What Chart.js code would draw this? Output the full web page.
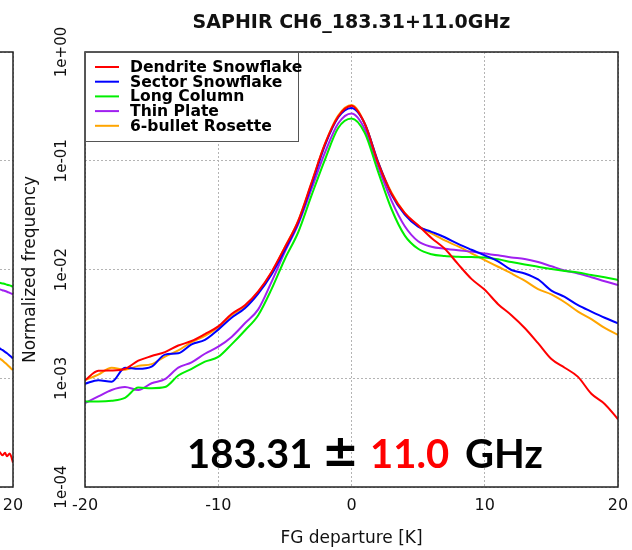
<!DOCTYPE html>
<html lang="en">
<head>
  <meta charset="UTF-8">
  <title>SAPHIR CH6 183.31+11.0GHz</title>
  <script src="https://cdn.jsdelivr.net/npm/chart.js"></script>
  <style>
    html, body { margin: 0; padding: 0; background: #fff; overflow: hidden; }
    #wrap { position: relative; width: 632px; height: 550px; overflow: hidden; }
    /* neighbouring panel: same geometry as the main one, shifted so only its right edge shows */
    #sideChart { position: absolute; left: -605px; top: 0; width: 632px; height: 550px; }
    #mainChart { position: absolute; left: 0; top: 0; width: 632px; height: 550px; }
  </style>
</head>
<body>
<div id="wrap">
  <canvas id="sideChart" width="632" height="550"></canvas>
  <canvas id="mainChart" width="632" height="550"></canvas>
</div>

<script>
// ---- data (FG departure in K, normalized frequency) ----
const xValues = [-20, -19, -18, -17, -16, -15, -14, -13, -12, -11, -10, -9, -8, -7, -6, -5, -4, -3, -2, -1,
  0, 1, 2, 3, 4, 5, 6, 7, 8, 9, 10, 11, 12, 13, 14, 15, 16, 17, 18, 19, 20];

const dendrite = [9.6e-4, 1.17e-3, 1.18e-3, 1.22e-3, 1.45e-3, 1.6e-3, 1.74e-3, 2.0e-3, 2.2e-3, 2.55e-3,
  3.0e-3, 3.9e-3, 4.7e-3, 6.3e-3, 9.5e-3, 0.016, 0.028, 0.063, 0.142, 0.255,
  0.32, 0.218, 0.095, 0.05, 0.033, 0.0255, 0.0195, 0.0155, 0.0112, 0.0082,
  0.0065, 0.0048, 0.0038, 0.0029, 0.0021, 0.0015, 0.00125, 0.00103, 0.00072, 0.00058, 0.00042];
const sector = [8.9e-4, 9.6e-4, 9.3e-4, 1.25e-3, 1.22e-3, 1.28e-3, 1.65e-3, 1.7e-3, 2.05e-3, 2.25e-3,
  2.8e-3, 3.6e-3, 4.4e-3, 6.0e-3, 9.0e-3, 0.0152, 0.027, 0.06, 0.138, 0.25,
  0.305, 0.218, 0.097, 0.049, 0.032, 0.0248, 0.0222, 0.0198, 0.0172, 0.0152,
  0.0135, 0.0119, 0.0099, 0.0092, 0.0081, 0.0064, 0.0056, 0.0047, 0.0041, 0.0036, 0.0032];
const longColumn = [6.1e-4, 6.1e-4, 6.2e-4, 6.6e-4, 8.2e-4, 8.1e-4, 8.3e-4, 1.06e-3, 1.22e-3, 1.42e-3,
  1.57e-3, 2.05e-3, 2.75e-3, 3.8e-3, 6.6e-3, 0.0125, 0.022, 0.048, 0.102, 0.2,
  0.245, 0.18, 0.079, 0.036, 0.0205, 0.0155, 0.0138, 0.0133, 0.0131, 0.013,
  0.0129, 0.0124, 0.0117, 0.0111, 0.0106, 0.0101, 0.0097, 0.0094, 0.0089, 0.0085, 0.008];
const thinPlate = [5.9e-4, 6.8e-4, 7.8e-4, 8.3e-4, 7.8e-4, 9.0e-4, 9.8e-4, 1.25e-3, 1.4e-3, 1.68e-3,
  1.95e-3, 2.4e-3, 3.2e-3, 4.3e-3, 7.7e-3, 0.0145, 0.026, 0.055, 0.118, 0.22,
  0.272, 0.195, 0.088, 0.043, 0.025, 0.0182, 0.0162, 0.0155, 0.015, 0.0146,
  0.014, 0.0135, 0.0129, 0.0125, 0.0117, 0.0107, 0.0098, 0.0092, 0.0085, 0.0078, 0.0072];
const rosette = [9.6e-4, 1.08e-3, 1.25e-3, 1.2e-3, 1.3e-3, 1.35e-3, 1.58e-3, 1.8e-3, 2.15e-3, 2.45e-3,
  2.95e-3, 3.8e-3, 4.6e-3, 6.2e-3, 9.4e-3, 0.016, 0.028, 0.062, 0.142, 0.26,
  0.325, 0.22, 0.097, 0.051, 0.033, 0.0252, 0.0215, 0.0185, 0.0163, 0.0141,
  0.0122, 0.0106, 0.0092, 0.0079, 0.0066, 0.0059, 0.005, 0.0041, 0.0035, 0.0029, 0.0025];

const seriesNames = ['Dendrite Snowflake', 'Sector Snowflake', 'Long Column', 'Thin Plate', '6-bullet Rosette'];
const seriesColors = ['#ff0000', '#0000ff', '#00ee00', '#a020f0', '#ffa500'];

const yTickValues = [1e-4, 1e-3, 1e-2, 1e-1, 1];
const yTickLabels = ['1e-04', '1e-03', '1e-02', '1e-01', '1e+00'];
const xTickValues = [-20, -10, 0, 10, 20];

// right edge of the neighbouring panel (cut off at the left of the image)
const sideX = [18.5, 19, 19.2, 19.4, 19.55, 19.75, 19.88, 20];
const sideDendrite = [2.2e-4, 2.1e-4, 1.96e-4, 2.06e-4, 1.92e-4, 2.03e-4, 1.89e-4, 1.67e-4];
const sideSector = [2.1e-3, 1.88e-3, 1.82e-3, 1.75e-3, 1.7e-3, 1.62e-3, 1.57e-3, 1.52e-3];
const sideLongColumn = [7.9e-3, 7.55e-3, 7.45e-3, 7.35e-3, 7.25e-3, 7.15e-3, 7.05e-3, 6.93e-3];
const sideThinPlate = [6.9e-3, 6.56e-3, 6.45e-3, 6.35e-3, 6.25e-3, 6.1e-3, 6.0e-3, 5.94e-3];
const sideRosette = [1.7e-3, 1.52e-3, 1.46e-3, 1.39e-3, 1.34e-3, 1.27e-3, 1.22e-3, 1.19e-3];

const titleText = 'SAPHIR CH6_183.31+11.0GHz';

Chart.defaults.font.family = '"DejaVu Sans", sans-serif';
Chart.defaults.color = '#111';

function toPoints(xs, ys) {
  return xs.map((x, i) => ({ x: x, y: ys[i] }));
}

function makeDatasets(xs, lists) {
  return lists.map((ys, i) => ({
    label: seriesNames[i],
    data: toPoints(xs, ys),
    borderColor: seriesColors[i],
    backgroundColor: seriesColors[i],
    borderWidth: 2,
    pointRadius: 0,
    cubicInterpolationMode: 'monotone',
    fill: false
  }));
}

// fix axis sizes and stop tick labels from pushing the plot area in
function fixSize(w, h) {
  return s => {
    if (w !== null) s.width = w;
    if (h !== null) s.height = h;
    s.paddingLeft = 0;
    s.paddingRight = 0;
    s.paddingTop = 0;
    s.paddingBottom = 0;
  };
}

const gridStyle = { color: '#b4b4b4', lineWidth: 1, drawTicks: false };
const dashedBorder = { display: false, dash: [2, 2] };

// box around the plot area
const boxPlugin = {
  id: 'box',
  afterDatasetsDraw(chart) {
    const { ctx, chartArea: a } = chart;
    ctx.save();
    ctx.strokeStyle = '#222';
    ctx.lineWidth = 1.5;
    ctx.strokeRect(a.left, a.top, a.right - a.left, a.bottom - a.top);
    ctx.restore();
  }
};

// title, legend and the big frequency label
const decorPlugin = {
  id: 'decor',
  afterDatasetsDraw(chart) {
    const { ctx, chartArea: a } = chart;
    ctx.save();

    // title
    ctx.fillStyle = '#111';
    ctx.font = 'bold 19px "DejaVu Sans"';
    ctx.textAlign = 'center';
    ctx.textBaseline = 'alphabetic';
    ctx.fillText(titleText, (a.left + a.right) / 2, 28);

    // legend box
    ctx.fillStyle = '#fff';
    ctx.fillRect(a.left, a.top, 213, 89);
    ctx.strokeStyle = '#555';
    ctx.lineWidth = 1;
    ctx.strokeRect(a.left + 0.5, a.top + 0.5, 213, 89);
    ctx.font = 'bold 15.6px "DejaVu Sans"';
    ctx.textAlign = 'left';
    ctx.textBaseline = 'middle';
    chart.data.datasets.forEach((ds, i) => {
      const y = a.top + 15 + i * 14.7;
      ctx.strokeStyle = ds.borderColor;
      ctx.lineWidth = 2;
      ctx.beginPath();
      ctx.moveTo(a.left + 10, y);
      ctx.lineTo(a.left + 34, y);
      ctx.stroke();
      ctx.fillStyle = '#000';
      ctx.fillText(ds.label, a.left + 45, y + 1);
    });

    // 183.31 ± 11.0 GHz
    const base = a.bottom - 19;
    ctx.textBaseline = 'alphabetic';
    ctx.font = 'bold 40px Lato';
    ctx.fillStyle = '#000';
    ctx.fillText('183.31', a.left + 102, base);
    ctx.font = 'bold 44px "DejaVu Sans"';
    ctx.fillText('\u00b1', a.left + 237, base - 2);
    ctx.font = 'bold 40px Lato';
    ctx.fillStyle = '#ff0000';
    ctx.fillText('11.0', a.left + 285, base);
    ctx.fillStyle = '#000';
    ctx.fillText('GHz', a.left + 380, base);
    ctx.restore();
  }
};

// both panels share one layout so their plot areas line up exactly
function panelOptions() {
  return {
    responsive: false,
    animation: false,
    layout: { padding: { left: 0, right: 14, top: 52, bottom: 0 } },
    plugins: { legend: { display: false }, title: { display: false }, tooltip: { enabled: false } },
    scales: {
      x: {
        type: 'linear',
        min: -20,
        max: 20,
        afterBuildTicks: s => { s.ticks = xTickValues.map(v => ({ value: v })); },
        afterFit: fixSize(null, 63),
        grid: gridStyle,
        border: dashedBorder,
        ticks: { font: { size: 16 }, padding: 9, color: '#111', maxRotation: 0 },
        title: { display: true, text: 'FG departure [K]', font: { size: 17 }, color: '#111', padding: { top: 0, bottom: 1 } }
      },
      y: {
        type: 'logarithmic',
        min: 1e-4,
        max: 1,
        afterBuildTicks: s => { s.ticks = yTickValues.map(v => ({ value: v })); },
        afterFit: fixSize(85, null),
        grid: gridStyle,
        border: dashedBorder,
        ticks: {
          font: { size: 15 },
          color: '#111',
          autoSkip: false,
          minRotation: 90,
          maxRotation: 90,
          crossAlign: 'center',
          padding: -2,
          callback: v => yTickLabels[yTickValues.indexOf(v)]
        },
        title: { display: true, text: 'Normalized frequency', font: { size: 17 }, color: '#111', padding: { top: 20, bottom: 0 } }
      }
    }
  };
}

new Chart(document.getElementById('mainChart'), {
  type: 'line',
  data: { datasets: makeDatasets(xValues, [dendrite, sector, longColumn, thinPlate, rosette]) },
  options: panelOptions(),
  plugins: [boxPlugin, decorPlugin]
});

new Chart(document.getElementById('sideChart'), {
  type: 'line',
  data: { datasets: makeDatasets(sideX, [sideDendrite, sideSector, sideLongColumn, sideThinPlate, sideRosette]) },
  options: panelOptions(),
  plugins: [boxPlugin]
});
</script>
</body>
</html>
